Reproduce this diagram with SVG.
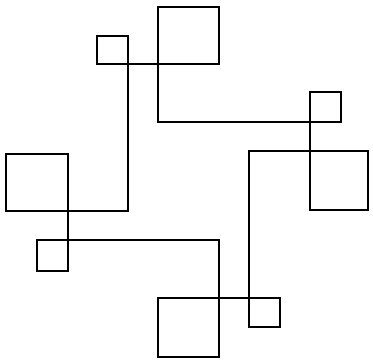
<svg xmlns="http://www.w3.org/2000/svg" width="373" height="364" viewBox="0 0 373 364">
<style>
.sq{fill:none;stroke:#000;stroke-width:2;}
.ln{fill:none;stroke:#000;stroke-width:2;stroke-linejoin:miter;}
</style>
<rect width="373" height="364" fill="#fff"/>
<g id="top-small"><rect class="sq" x="97" y="36" width="31" height="28"/></g>
<g id="top-big"><rect class="sq" x="158" y="7" width="61" height="57"/></g>
<g id="right-small"><rect class="sq" x="310" y="92" width="31" height="30"/></g>
<g id="right-big"><rect class="sq" x="310" y="151" width="58" height="59"/></g>
<g id="left-big"><rect class="sq" x="6" y="154" width="62" height="57"/></g>
<g id="left-small"><rect class="sq" x="37" y="240" width="31" height="31"/></g>
<g id="bottom-big"><rect class="sq" x="158" y="298" width="61" height="59"/></g>
<g id="bottom-small"><rect class="sq" x="249" y="298" width="31" height="29"/></g>
<g id="connectors">
<polyline class="ln" points="128,64 158,64"/>
<polyline class="ln" points="128,64 128,211 68,211"/>
<polyline class="ln" points="158,64 158,122 310,122"/>
<polyline class="ln" points="310,122 310,151"/>
<polyline class="ln" points="310,151 249,151 249,298"/>
<polyline class="ln" points="249,298 219,298"/>
<polyline class="ln" points="219,298 219,240 68,240"/>
<polyline class="ln" points="68,211 68,240"/>
</g>
</svg>
